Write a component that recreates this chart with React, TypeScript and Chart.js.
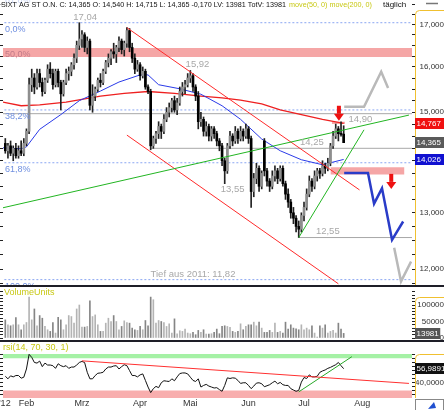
import React, { useEffect, useRef } from "react";
import { Chart, registerables } from "chart.js";

Chart.register(...registerables);

const FONT = "'Liberation Sans', Arial, sans-serif";

// ---------------- DATA ----------------
// day index 0 = first trading day of February 2012
const firstIndex = -8;

// [open, high, low, close]
const candles: number[][] = [
  [14.35, 14.45, 14.15, 14.2], [14.2, 14.35, 14.05, 14.3], [14.3, 14.4, 14.1, 14.15], [14.15, 14.3, 14.0, 14.25],
  [14.25, 14.35, 14.05, 14.1], [14.1, 14.3, 14.05, 14.2], [14.2, 14.4, 14.1, 14.15], [14.15, 14.45, 14.1, 14.35],
  [14.35, 14.65, 14.3, 14.6],
  [14.6, 15.75, 14.55, 15.6],
  [15.6, 15.95, 15.45, 15.75], [15.75, 15.85, 15.4, 15.55], [15.55, 15.95, 15.5, 15.85], [15.85, 15.95, 15.55, 15.65],
  [15.65, 15.75, 15.35, 15.45], [15.45, 15.75, 15.4, 15.7], [15.7, 16.05, 15.65, 15.95], [15.95, 16.1, 15.75, 15.85],
  [15.85, 15.95, 15.5, 15.6], [15.6, 15.95, 15.55, 15.9], [15.9, 15.95, 15.55, 15.65], [15.65, 15.7, 15.05, 15.4],
  [15.4, 15.7, 15.35, 15.65], [15.65, 15.95, 15.6, 15.85], [15.85, 16.0, 15.7, 15.9], [15.9, 16.1, 15.8, 16.05],
  [16.05, 16.3, 15.95, 16.2],
  [16.2, 16.6, 16.1, 16.5], [16.5, 17.04, 16.4, 16.65], [16.65, 16.85, 16.45, 16.75], [16.75, 16.8, 16.35, 16.45],
  [16.45, 16.7, 16.3, 16.6], [16.6, 16.65, 15.05, 15.15], [15.15, 15.6, 15.0, 15.35], [15.35, 15.55, 15.25, 15.5],
  [15.5, 15.75, 15.45, 15.7], [15.7, 15.85, 15.55, 15.65], [15.65, 15.95, 15.6, 15.9], [15.9, 16.15, 15.85, 16.1],
  [16.1, 16.3, 16.0, 16.2], [16.2, 16.4, 16.05, 16.35], [16.35, 16.55, 16.2, 16.3], [16.3, 16.5, 16.1, 16.45],
  [16.45, 16.7, 16.35, 16.6], [16.6, 16.65, 16.3, 16.4], [16.4, 16.6, 16.25, 16.55], [16.55, 16.92, 16.45, 16.85],
  [16.85, 16.9, 16.35, 16.45], [16.45, 16.55, 16.1, 16.2], [16.2, 16.3, 15.85, 15.95], [15.95, 16.15, 15.9, 16.05],
  [16.05, 16.1, 15.7, 15.8], [15.8, 16.0, 15.75, 15.9], [15.9, 15.95, 15.5, 15.55], [15.55, 15.6, 15.4, 15.45],
  [15.45, 15.5, 14.22, 14.3], [14.3, 14.5, 14.25, 14.45], [14.45, 14.6, 14.35, 14.55], [14.55, 14.8, 14.45, 14.7],
  [14.7, 14.75, 14.45, 14.6], [14.6, 14.95, 14.55, 14.85], [14.85, 15.1, 14.8, 15.0], [15.0, 15.2, 14.9, 15.1],
  [15.1, 15.3, 15.0, 15.25], [15.25, 15.35, 15.0, 15.05], [15.05, 15.3, 14.95, 15.2], [15.2, 15.55, 15.15, 15.45],
  [15.45, 15.65, 15.35, 15.55], [15.55, 15.7, 15.4, 15.6], [15.6, 15.85, 15.55, 15.75], [15.75, 15.92, 15.65, 15.8],
  [15.8, 15.85, 15.45, 15.55], [15.55, 15.6, 15.25, 15.35], [15.35, 15.45, 14.65, 14.8],
  [14.8, 15.0, 14.7, 14.85], [14.85, 14.9, 14.5, 14.6], [14.6, 14.8, 14.5, 14.7], [14.7, 14.75, 14.4, 14.5],
  [14.5, 14.7, 14.4, 14.65], [14.65, 14.7, 14.45, 14.55], [14.55, 14.6, 14.3, 14.4], [14.4, 14.45, 14.2, 14.3],
  [14.3, 14.35, 13.9, 14.0], [14.0, 14.05, 13.55, 13.8], [13.8, 14.35, 13.75, 14.3], [14.3, 14.6, 14.25, 14.5],
  [14.5, 14.55, 14.3, 14.4], [14.4, 14.7, 14.35, 14.6], [14.6, 14.65, 14.35, 14.45], [14.45, 14.7, 14.4, 14.6],
  [14.6, 14.65, 14.4, 14.5], [14.5, 14.75, 14.45, 14.65], [14.65, 14.7, 14.35, 14.45], [14.45, 14.5, 13.1, 13.4],
  [13.4, 13.75, 13.3, 13.65], [13.65, 13.95, 13.55, 13.85], [13.85, 13.9, 13.4, 13.5], [13.5, 13.8, 13.45, 13.75],
  [14.4, 14.45, 13.7, 13.8], [13.8, 13.85, 13.5, 13.6], [13.6, 13.65, 13.4, 13.5], [13.5, 13.8, 13.45, 13.7],
  [13.7, 13.9, 13.6, 13.8], [13.8, 13.85, 13.55, 13.65], [13.65, 13.9, 13.6, 13.85], [13.85, 13.9, 13.5, 13.55],
  [13.55, 13.6, 13.25, 13.35], [13.35, 13.45, 13.1, 13.2], [13.2, 13.25, 12.9, 13.0], [13.0, 13.1, 12.8, 12.9],
  [12.9, 12.95, 12.65, 12.75], [12.75, 12.85, 12.55, 12.7], [12.7, 13.0, 12.65, 12.95], [12.95, 13.2, 12.85, 13.1],
  [13.1, 13.45, 13.05, 13.35], [13.35, 13.7, 13.3, 13.6], [13.6, 13.65, 13.4, 13.5], [13.5, 13.8, 13.45, 13.7],
  [13.7, 13.85, 13.6, 13.8], [13.8, 13.85, 13.65, 13.75], [13.75, 14.0, 13.7, 13.9], [13.9, 13.95, 13.75, 13.85],
  [13.85, 14.05, 13.8, 13.95], [13.95, 14.35, 13.9, 14.3], [14.3, 14.6, 14.25, 14.5], [14.5, 14.75, 14.45, 14.65],
  [14.65, 14.7, 14.4, 14.55], [14.55, 14.8, 14.5, 14.535], [14.54, 14.715, 14.365, 14.365],
];

const volumes = [
  55000, 40000, 37000, 40000, 62000, 40000, 25000, 40000, 47000, 124000,
  55000, 88000, 37000, 68000, 60000, 35000, 25000, 20000, 47000, 15000,
  63000, 55000, 25000, 40000, 68000, 65000, 45000, 88000, 100000, 33000,
  33000, 35000, 113000, 65000, 70000, 40000, 20000, 20000, 45000, 60000,
  50000, 68000, 50000, 25000, 35000, 52000, 47000, 45000, 30000, 25000,
  23000, 35000, 25000, 53000, 37000, 124000, 116000, 45000, 53000, 50000,
  47000, 35000, 43000, 15000, 58000, 13000, 22000, 20000, 27000, 15000,
  13000, 17000, 10000, 23000, 17000, 25000, 12000, 12000, 13000, 17000,
  27000, 13000, 35000, 37000, 35000, 32000, 20000, 17000, 20000, 43000,
  25000, 35000, 40000, 40000, 48000, 37000, 48000, 30000, 17000, 17000,
  23000, 17000, 45000, 17000, 20000, 15000, 48000, 27000, 40000, 30000,
  28000, 25000, 40000, 25000, 30000, 25000, 37000, 15000, 3000, 37000,
  30000, 40000, 15000, 20000, 23000, 15000, 45000, 27000, 13981,
];

const rsiValues = [
  47.6, 44.4, 48.1, 46.8, 48.5, 48.5, 45.2, 46.4, 56.6, 74.8,
  71.0, 64.7, 63.9, 66.4, 59.5, 63.9, 61.5, 61.5, 60.7, 57.4,
  63.1, 60.7, 59.5, 60.7, 57.4, 59.0, 59.0, 61.5, 64.7, 66.0,
  64.7, 52.5, 44.4, 44.4, 48.5, 51.3, 51.7, 52.5, 56.6, 59.0,
  59.0, 60.3, 60.7, 56.6, 59.5, 61.9, 60.7, 54.6, 48.5, 48.5,
  46.8, 49.3, 50.5, 42.4, 34.2, 27.3, 32.2, 35.0, 33.4, 39.5,
  42.0, 41.5, 41.1, 44.4, 42.0, 46.8, 50.9, 51.7, 51.7, 50.5,
  46.4, 42.4, 41.1, 44.4, 34.2, 36.2, 37.5, 35.4, 34.2, 33.0,
  33.4, 31.0, 28.9, 36.2, 45.6, 44.8, 45.6, 45.2, 42.4, 38.7,
  39.5, 39.5, 36.2, 32.2, 35.4, 39.1, 39.5, 38.3, 34.6, 35.8,
  37.1, 39.5, 41.5, 38.3, 39.9, 37.1, 36.2, 36.2, 32.2, 30.5,
  28.9, 30.1, 40.3, 46.0, 44.8, 49.3, 46.8, 46.8, 47.6, 52.5,
  54.2, 55.4, 57.4, 58.6, 60.3, 61.9, 64.7, 60.7, 56.9891,
];

const ma50Days = [-9, -2, 0, 5, 13, 20, 28, 35, 43, 46, 50, 58, 66, 74, 81, 89, 96, 104, 112, 115, 120];
const ma50Values = [14.26, 14.24, 14.28, 14.64, 14.95, 15.25, 15.46, 15.66, 15.82, 15.82, 15.6, 15.51, 15.39, 15.14, 14.85, 14.44, 14.2, 14.02, 13.92, 13.96, 14.026];

const ma200Days = [-9, -2, 5, 15, 28, 37, 46, 56, 66, 74, 81, 89, 96, 104, 112, 120];
const ma200Values = [15.22, 15.14, 15.16, 15.22, 15.35, 15.41, 15.45, 15.41, 15.35, 15.31, 15.26, 15.18, 15.05, 14.95, 14.85, 14.767];

const monthTicks = [-8.2, 0, 21, 43, 62, 84, 105, 127];
const monthLabels = ["'12", "Feb", "Mrz", "Apr", "Mai", "Jun", "Jul", "Aug"];

const priceTicks = [11.75, 12, 12.25, 12.5, 12.75, 13, 13.25, 13.5, 13.75, 14, 14.25, 14.5, 14.75, 15, 15.25, 15.5, 15.75, 16, 16.25, 16.5, 16.75, 17, 17.25, 17.5];
const priceLabelTicks = [12, 13, 14, 15, 16, 17];
const volumeTicks = [0, 10000, 20000, 30000, 40000, 50000, 60000, 70000, 80000, 90000, 100000, 110000, 120000, 130000, 140000];
const volumeLabelTicks = [0, 50000, 100000];
const rsiTicks = [25, 30, 35, 40, 45, 50, 55, 60, 65, 70, 75];
const rsiLabelTicks = [40, 60];

const fibLevels = [
  { label: "61,8%", value: 17.75 },
  { label: "0,0%", value: 17.04 },
  { label: "38,2%", value: 15.05 },
  { label: "61,8%", value: 13.96 },
  { label: "100,0%", value: 11.82 },
];
const resistanceBand = { label: "50,0%", low: 16.23, high: 16.44 };
const supportBand = { from: 115, to: 143, low: 13.73, high: 13.87 };
const maMarkBand = { from: 115.5, to: 120.5, low: 14.75, high: 14.8 };
const greyLevels = [
  { value: 14.97, from: -9 },
  { value: 14.25, from: 47 },
  { value: 12.55, from: 103 },
];
const channelUpper = [[38, 16.92], [126, 13.43]];
const channelLower = [[38, 14.52], [118, 11.75]];
const trendLong = [[-9.2, 13.09], [144.7, 14.94]];
const trendShort = [[103, 12.55], [127.7, 14.63]];
const bullPath = [[120.2, 15.12], [127.7, 15.12], [134.2, 15.89], [136.8, 15.53]];
const bearPath = [[120.2, 13.76], [129.2, 13.76], [131.5, 13.17], [134.5, 13.46], [138.3, 12.51], [142.5, 12.84]];
const crashPath = [[139.1, 12.37], [141.7, 11.79], [145.5, 12.13]];
const arrows = [[118.2, 14.82], [138, 13.45]];
const rsiDownTrend = [[21, 66.7], [144.7, 38.7]];
const rsiUpTrend = [[103, 28.2], [123.1, 71.9]];

const priceNotes = [
  { text: "17,04", day: 22.2, value: 17.04, base: "bottom" },
  { text: "15,92", day: 64.7, value: 15.92, base: "bottom" },
  { text: "13,55", day: 78, value: 13.55, base: "top" },
  { text: "14,90", day: 126.3, value: 14.97, base: "top" },
  { text: "14,25", day: 108, value: 14.25, base: "bottom" },
  { text: "12,55", day: 114, value: 12.55, base: "bottom" },
  { text: "Tief aus 2011: 11,82", day: 63, value: 11.82, base: "bottom" },
];

// ---------------- LAYOUT CONSTANTS ----------------
const X_MIN = -8.87;
const X_MAX = 145.85;
const AXIS_W = 32;
const AXIS_X = 415.5;

const pts = (arr: number[][]) => arr.map(([x, y]) => ({ x, y }));
const f3 = (v: number) => v.toFixed(3).replace(".", ",");
const isUp = (c: number[]) => c[3] >= c[0];

function line(data: any[], color: string, width: number, order: number, extra: any = {}) {
  return { type: "line", data, borderColor: color, borderWidth: width, pointRadius: 0, tension: 0, fill: false, order, ...extra };
}
function hband(low: number, high: number, from: number, to: number, color: string, order: number) {
  return {
    type: "line",
    data: [{ x: from, y: high }, { x: to, y: high }],
    borderWidth: 0,
    borderColor: "rgba(0,0,0,0)",
    backgroundColor: color,
    pointRadius: 0,
    fill: { value: low },
    order,
  };
}

function xScale() {
  return {
    type: "linear",
    min: X_MIN,
    max: X_MAX,
    offset: false,
    bounds: "data",
    display: false,
    grid: { display: false },
    border: { display: false },
  };
}
function rightAxis(type: string, min: number, max: number, ticks: number[], labels: number[], fmt: (v: number) => string) {
  return {
    type,
    position: "right",
    min,
    max,
    bounds: "data",
    afterBuildTicks: (s: any) => { s.ticks = ticks.map((v) => ({ value: v })); },
    ticks: {
      autoSkip: false,
      callback: (v: number) => (labels.includes(v) ? fmt(v) : ""),
      font: { size: 8, family: FONT },
      color: "#333",
      crossAlign: "far",
      padding: 3,
    },
    grid: { drawOnChartArea: false, drawTicks: true, tickLength: 3, color: "#222", lineWidth: 1 },
    border: { display: false },
    afterFit: (s: any) => { s.width = AXIS_W; s.paddingTop = 0; s.paddingBottom = 0; },
  };
}
function leftAxis(type: string, min: number, max: number, ticks: number[]) {
  return {
    type,
    position: "left",
    min,
    max,
    bounds: "data",
    afterBuildTicks: (s: any) => { s.ticks = ticks.map((v) => ({ value: v })); },
    ticks: { display: false },
    grid: { drawOnChartArea: false, drawTicks: true, tickLength: 3, color: "#222" },
    border: { display: false },
    afterFit: (s: any) => { s.width = 3; s.paddingTop = 0; s.paddingBottom = 0; },
  };
}

function bracket(ctx: CanvasRenderingContext2D, top: number, bottom: number) {
  const r = 4;
  ctx.save();
  ctx.strokeStyle = "#f0c030";
  ctx.lineWidth = 1;
  ctx.beginPath();
  ctx.moveTo(AXIS_X, bottom);
  ctx.lineTo(AXIS_X, top + r);
  ctx.quadraticCurveTo(AXIS_X, top, AXIS_X + r, top);
  ctx.lineTo(444, top);
  ctx.stroke();
  ctx.restore();
}
function valueBox(ctx: CanvasRenderingContext2D, y: number, text: string, bg: string, full: boolean) {
  ctx.save();
  ctx.font = `8px ${FONT}`;
  const x0 = 415;
  const w = full ? 444 - x0 : ctx.measureText(text).width + 3;
  ctx.fillStyle = bg;
  ctx.fillRect(x0, Math.round(y - 5.5), w, 11);
  ctx.fillStyle = "#fff";
  ctx.textBaseline = "middle";
  ctx.textAlign = "left";
  ctx.fillText(text, x0 + 1.5, Math.round(y - 5.5) + 6);
  ctx.restore();
}

const noEvents = { events: [] as any[], animation: false as const, responsive: false, maintainAspectRatio: false };
const noPlugins = { legend: { display: false }, tooltip: { enabled: false } };

export default function App() {
  const priceRef = useRef<HTMLCanvasElement>(null);
  const volRef = useRef<HTMLCanvasElement>(null);
  const rsiRef = useRef<HTMLCanvasElement>(null);

  useEffect(() => {
    const days = candles.map((_, k) => firstIndex + k);
    const last = candles[candles.length - 1];
    const prev = candles[candles.length - 2];

    // ---------- PRICE ----------
    const priceOverlay = {
      id: "priceOverlay",
      afterDraw(chart: any) {
        const { ctx, chartArea: a } = chart;
        const xs = chart.scales.x, ys = chart.scales.y;
        const X = (d: number) => xs.getPixelForValue(d);
        const Y = (v: number) => ys.getPixelForValue(v);
        ctx.save();
        ctx.beginPath();
        ctx.rect(a.left, a.top, a.right - a.left, a.bottom - a.top);
        ctx.clip();
        ctx.font = `9px ${FONT}`;
        ctx.textAlign = "left";
        ctx.textBaseline = "top";
        ctx.fillStyle = "#6f8fe0";
        fibLevels.forEach((f) => ctx.fillText(f.label, a.left + 2, Y(f.value) + 2));
        ctx.fillStyle = "#c07a88";
        ctx.fillText(resistanceBand.label, a.left + 2, Y(resistanceBand.high) + 2);
        ctx.font = `9.5px ${FONT}`;
        ctx.fillStyle = "#a8a8a8";
        ctx.textAlign = "center";
        priceNotes.forEach((n) => {
          ctx.textBaseline = n.base as CanvasTextBaseline;
          ctx.fillText(n.text, X(n.day), Y(n.value) + (n.base === "top" ? 1 : -1));
        });
        ctx.fillStyle = "#ee1111";
        arrows.forEach(([d, v]) => {
          const x = X(d), y = Y(v);
          ctx.fillRect(x - 2, y - 15, 4, 8);
          ctx.beginPath();
          ctx.moveTo(x - 5, y - 7);
          ctx.lineTo(x + 5, y - 7);
          ctx.lineTo(x, y);
          ctx.closePath();
          ctx.fill();
        });
        ctx.restore();

        // header
        ctx.save();
        ctx.fillStyle = "rgba(255,255,255,0.65)";
        ctx.fillRect(0, 0, 412, 9);
        ctx.font = `8px ${FONT}`;
        ctx.textBaseline = "middle";
        ctx.textAlign = "left";
        const head = `SIXT AG ST O.N. C: ${f3(last[3])} O: ${f3(last[0])} H: ${f3(last[1])} L: ${f3(last[2])} ${f3(last[3] - prev[3])} LV: ${volumes[volumes.length - 1]} TotV: ${volumes[volumes.length - 1]} `;
        ctx.fillStyle = "#111";
        ctx.fillText(head, 1, 5, 287);
        ctx.fillStyle = "#c8c814";
        ctx.fillText("move(50, 0) move(200, 0)", 289, 5, 83);
        ctx.fillStyle = "#111";
        ctx.fillText("täglich", 383, 5, 29);
        ctx.strokeStyle = "#777";
        ctx.lineWidth = 1.5;
        ctx.beginPath();
        ctx.moveTo(426, 3.5);
        ctx.lineTo(438, 3.5);
        ctx.stroke();
        ctx.restore();

        bracket(ctx, 10.5, a.bottom);
        valueBox(ctx, Y(ma200Values[ma200Values.length - 1]), f3(ma200Values[ma200Values.length - 1]), "#f01010", true);
        valueBox(ctx, Y(last[3]), f3(last[3]), "#5a5a5a", true);
        valueBox(ctx, Y(ma50Values[ma50Values.length - 1]), f3(ma50Values[ma50Values.length - 1]), "#1010d0", true);
      },
    };

    const price = new Chart(priceRef.current as HTMLCanvasElement, {
      type: "line",
      data: {
        datasets: [
          hband(resistanceBand.low, resistanceBand.high, X_MIN - 1, X_MAX + 1, "rgba(243,150,150,0.85)", 20),
          hband(supportBand.low, supportBand.high, supportBand.from, supportBand.to, "rgba(243,150,150,0.85)", 20),
          hband(maMarkBand.low, maMarkBand.high, maMarkBand.from, maMarkBand.to, "rgba(243,150,150,0.85)", 20),
          ...fibLevels.map((f) => line([{ x: X_MIN - 1, y: f.value }, { x: X_MAX + 1, y: f.value }], "#8aa6f2", 1, 18, { borderDash: [2, 2] })),
          ...greyLevels.map((g) => line([{ x: g.from, y: g.value }, { x: X_MAX + 1, y: g.value }], "#a8a8a8", 1, 17)),
          line(ma200Days.map((d, k) => ({ x: d, y: ma200Values[k] })), "#ee2020", 1.3, 15),
          line(ma50Days.map((d, k) => ({ x: d, y: ma50Values[k] })), "#2a3ae8", 1, 14),
          {
            type: "bar",
            data: candles.map((c, k) => ({ x: days[k], y: [c[2], c[1]] })),
            backgroundColor: "#222",
            barThickness: 1,
            grouped: false,
            order: 12,
          },
          {
            type: "bar",
            data: candles.map((c, k) => ({ x: days[k], y: [c[0], c[3]] })),
            backgroundColor: candles.map((c) => (isUp(c) ? "#8e8e8e" : "#000")),
            barThickness: 2,
            minBarLength: 1,
            grouped: false,
            order: 11,
          },
          line(pts(channelUpper), "#ff2a2a", 1, 6),
          line(pts(channelLower), "#ff2a2a", 1, 6),
          line(pts(trendLong), "#22b522", 1, 5),
          line(pts(trendShort), "#22b522", 1, 5),
          line(pts(bullPath), "#b9b9b9", 2.5, 3, { borderJoinStyle: "miter" }),
          line(pts(crashPath), "#b9b9b9", 2.5, 3),
          line(pts(bearPath), "#2a3cc8", 2.5, 2),
        ] as any,
      },
      options: {
        ...noEvents,
        layout: { padding: { left: 0, right: 0, top: 0, bottom: 1 }, autoPadding: false },
        plugins: noPlugins,
        scales: {
          x: xScale(),
          y: rightAxis("logarithmic", 11.73, 17.6, priceTicks, priceLabelTicks, f3),
          yl: leftAxis("logarithmic", 11.73, 17.6, priceTicks),
        } as any,
      },
      plugins: [priceOverlay],
    } as any);

    // ---------- VOLUME ----------
    const volOverlay = {
      id: "volOverlay",
      afterDraw(chart: any) {
        const { ctx, chartArea: a } = chart;
        ctx.save();
        ctx.font = `9px ${FONT}`;
        ctx.fillStyle = "#c8c814";
        ctx.textBaseline = "middle";
        ctx.textAlign = "left";
        ctx.fillText("VolumeUnits", 4, 6);
        ctx.restore();
        bracket(ctx, 10.5, a.bottom);
        valueBox(ctx, chart.scales.y.getPixelForValue(volumes[volumes.length - 1]), String(volumes[volumes.length - 1]), "#555", false);
      },
    };
    const vol = new Chart(volRef.current as HTMLCanvasElement, {
      type: "bar",
      data: {
        datasets: [
          {
            data: volumes.map((v, k) => ({ x: days[k], y: v })),
            backgroundColor: candles.map((c) => (isUp(c) ? "#b4b4b4" : "#858585")),
            barThickness: 1,
            grouped: false,
          },
        ],
      },
      options: {
        ...noEvents,
        layout: { padding: { left: 0, right: 0, top: 2, bottom: 2 }, autoPadding: false },
        plugins: noPlugins,
        scales: {
          x: xScale(),
          y: rightAxis("linear", 0, 148500, volumeTicks, volumeLabelTicks, (v) => String(v)),
          yl: leftAxis("linear", 0, 148500, volumeTicks),
        } as any,
      },
      plugins: [volOverlay],
    } as any);

    // ---------- RSI ----------
    const rsiOverlay = {
      id: "rsiOverlay",
      afterDraw(chart: any) {
        const { ctx, chartArea: a } = chart;
        const xs = chart.scales.x;
        ctx.save();
        ctx.font = `9px ${FONT}`;
        ctx.fillStyle = "#c8c814";
        ctx.textBaseline = "middle";
        ctx.textAlign = "left";
        ctx.fillText("rsi(14, 70, 30, 1)", 3, 6);
        // month labels on the time axis
        ctx.fillStyle = "#333";
        ctx.textAlign = "center";
        monthTicks.forEach((t, k) => ctx.fillText(monthLabels[k], xs.getPixelForValue(t), a.bottom + 6));
        ctx.restore();
        bracket(ctx, a.top + 0.5, a.bottom);
        const lv = rsiValues[rsiValues.length - 1];
        valueBox(ctx, chart.scales.y.getPixelForValue(lv), lv.toFixed(4).replace(".", ","), "#111", true);
        ctx.save();
        ctx.strokeStyle = "#888";
        ctx.strokeRect(415.5, a.bottom + 1.5, 28, 11);
        ctx.fillStyle = "#2050d0";
        ctx.beginPath();
        ctx.moveTo(428, a.bottom + 11);
        ctx.lineTo(434, a.bottom + 4);
        ctx.lineTo(436, a.bottom + 10);
        ctx.closePath();
        ctx.fill();
        ctx.restore();
      },
    };
    const rsi = new Chart(rsiRef.current as HTMLCanvasElement, {
      type: "line",
      data: {
        datasets: [
          hband(70, 76, X_MIN - 1, X_MAX + 1, "rgba(160,240,160,0.95)", 20),
          hband(19, 30, X_MIN - 1, X_MAX + 1, "rgba(248,170,170,0.95)", 20),
          line(rsiValues.map((v, k) => ({ x: days[k], y: v })), "#111", 1, 5),
          line(pts(rsiDownTrend), "#ff3030", 1, 3),
          line(pts(rsiUpTrend), "#28a828", 1, 3),
        ] as any,
      },
      options: {
        ...noEvents,
        layout: { padding: { left: 0, right: 0, top: 12, bottom: 12 }, autoPadding: false },
        plugins: noPlugins,
        scales: {
          x: xScale(),
          y: rightAxis("linear", 20.6, 75.2, rsiTicks, rsiLabelTicks, (v) => v.toFixed(4).replace(".", ",")),
          yl: leftAxis("linear", 20.6, 75.2, rsiTicks),
        } as any,
      },
      plugins: [rsiOverlay],
    } as any);

    return () => {
      price.destroy();
      vol.destroy();
      rsi.destroy();
    };
  }, []);

  return (
    <div style={{ position: "fixed", left: 0, top: 0, width: 444, height: 410, background: "#fff", overflow: "hidden" }}>
      <canvas ref={priceRef} width={444} height={286} style={{ position: "absolute", left: 0, top: 0, display: "block" }} />
      <div style={{ position: "absolute", left: 0, top: 285, width: 444, height: 2, background: "#1e1e28" }} />
      <canvas ref={volRef} width={444} height={53} style={{ position: "absolute", left: 0, top: 287, display: "block" }} />
      <div style={{ position: "absolute", left: 0, top: 340, width: 444, height: 2, background: "#1e1e28" }} />
      <canvas ref={rsiRef} width={444} height={68} style={{ position: "absolute", left: 0, top: 342, display: "block" }} />
    </div>
  );
}
